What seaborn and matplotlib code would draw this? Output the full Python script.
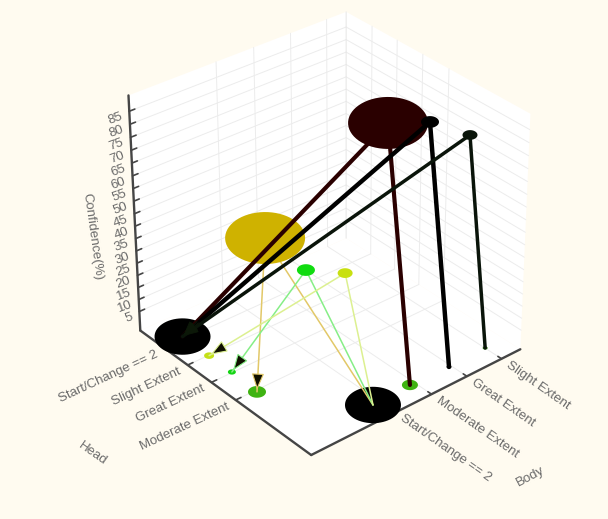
import numpy as np
import pandas as pd
import matplotlib
matplotlib.use('Agg')
import matplotlib.pyplot as plt
from matplotlib.path import Path
import seaborn as sns

# ---------- data ----------
z_ticks = list(range(5, 90, 5))
body_labels = ['Start/Change == 2', 'Moderate Extent', 'Great Extent', 'Slight Extent']
head_labels = ['Moderate Extent', 'Great Extent', 'Slight Extent', 'Start/Change == 2']

# item nodes on the floor
head_node_h = [-0.32, 0.77, 1.72, 2.85]
head_node_b = [-1.89, -1.85, -1.85, -1.85]
head_node_w = [18, 8, 10, 56]
head_node_c = ['#3fb312', '#14d414', '#c4e018', '#000000']
body_node_b = [-0.35, 0.70, 1.76, 2.82]
body_node_h = [-2.63, -2.58, -2.63, -2.60]
body_node_w = [56, 16, 5, 5]
body_node_c = ['#000000', '#3fb312', '#0a0a0a', '#2f7a10']

# association rules
rule_body = [1.0, 2.0, 3.0, 0.0, 0.0, 0.0]
rule_head = [-1.22, -1.40, -1.56, 2.17, 0.51, -1.04]
rule_conf = [92.2, 87.7, 77.7, 32.6, 30.5, 39.6]
rule_w = [80, 18, 15, 80, 18, 15]
rule_c = ['#2a0000', '#000000', '#0a140a', '#cfb200', '#10dc10', '#c8e010']
rule_line_c = ['#2a0000', '#000000', '#0a140a', '#e2c868', '#86ee86', '#dcf090']
rule_line_w = [3.0, 3.2, 2.5, 1.1, 1.1, 1.1]
rule_to_head = [3, 3, 3, 0, 1, 2]
rule_to_body = [1, 2, 3, 0, 0, 0]

# ---------- 3D box and perspective camera ----------
bl, hl, zl = (-2.25, 3.55), (-3.0, 4.05), (-3.0, 91.0)
_w = np.array([[0,0,0],[1,0,0],[0,1,0],[1,1,0],[0,1,1],[1,1,1],[1,0,1]], float)
_i = np.array([[312,455],[520,350],[140,330],[346,238],[128,96],[347,12],[530,113]], float)
_A = []
for (X,Y,Z),(u,v) in zip(_w,_i):
    _A.append([X,Y,Z,1,0,0,0,0,-u*X,-u*Y,-u*Z,-u])
    _A.append([0,0,0,0,X,Y,Z,1,-v*X,-v*Y,-v*Z,-v])
CAM = np.linalg.svd(np.array(_A))[2][-1].reshape(3,4)

def proj(b, h, c):
    v = np.array([(b-bl[0])/(bl[1]-bl[0]), (h-hl[0])/(hl[1]-hl[0]), (c-zl[0])/(zl[1]-zl[0]), 1.0])
    p = CAM @ v
    return p[0]/p[2], p[1]/p[2]

# ---------- figure ----------
BG = '#fffbf0'
TXT = '#6a6a6a'
sns.set_theme(style='white')
plt.rcParams['font.family'] = ['Liberation Sans', 'DejaVu Sans']
fig = plt.figure(figsize=(6.08, 5.19), dpi=100, facecolor=BG)
ax = fig.add_axes([0, 0, 1, 1])
ax.set_xlim(0, 608); ax.set_ylim(519, 0); ax.axis('off')

def poly(pts, **k):
    xy = np.array([proj(*p) for p in pts])
    ax.fill(xy[:,0], xy[:,1], **k)

B0,B1,H0,H1,Z0,Z1 = bl[0],bl[1],hl[0],hl[1],zl[0],zl[1]
poly([(B0,H0,Z0),(B1,H0,Z0),(B1,H1,Z0),(B0,H1,Z0)], color='white', lw=0, zorder=1)
poly([(B0,H1,Z0),(B1,H1,Z0),(B1,H1,Z1),(B0,H1,Z1)], color='white', lw=0, zorder=1)
poly([(B1,H0,Z0),(B1,H1,Z0),(B1,H1,Z1),(B1,H0,Z1)], color='white', lw=0, zorder=1)

def seg_df(segs):
    rows = []
    for i,(a,b) in enumerate(segs):
        for p in (a,b):
            x,y = proj(*p); rows.append((i,x,y))
    return pd.DataFrame(rows, columns=['u','x','y'])

def draw_segs(segs, color, lw, z):
    sns.lineplot(data=seg_df(segs), x='x', y='y', units='u', estimator=None, sort=False,
                 color=color, linewidth=lw, ax=ax, legend=False, zorder=z)

# wall and floor grid
grid = []
for c in z_ticks:
    grid.append(((B0,H1,c),(B1,H1,c)))
    grid.append(((B1,H0,c),(B1,H1,c)))
for b in range(4):
    grid.append(((b,H1,Z0),(b,H1,Z1)))
    grid.append(((b,H0,Z0),(b,H1,Z0)))
for h in range(4):
    grid.append(((B1,h,Z0),(B1,h,Z1)))
    grid.append(((B0,h,Z0),(B1,h,Z0)))
draw_segs(grid, '#ececec', 0.7, 2)
draw_segs([((B1,H1,Z0),(B1,H1,Z1))], '#e6e6e6', 0.7, 2)

# box axes
draw_segs([((B0,H1,Z0),(B0,H1,Z1)), ((B0,H1,Z0),(B0,H0,Z0)), ((B0,H0,Z0),(B1,H0,Z0))], '#454545', 1.7, 3)
ticks = [((B0,H1,c),(B0+0.14,H1,c)) for c in z_ticks]
ticks += [((b,H0,Z0),(b,H0+0.14,Z0)) for b in range(4)]
ticks += [((B0,h,Z0),(B0+0.14,h,Z0)) for h in range(4)]
draw_segs(ticks, '#454545', 1.2, 3)

# ellipse marker for scatter marks
t = np.linspace(0, 2*np.pi, 64)
ELL = Path(np.c_[np.cos(t), 0.65*np.sin(t)], closed=True)

def dots(xs, ys, ws, cs, z):
    df = pd.DataFrame({'x': xs, 'y': ys, 'k': [str(i) for i in range(len(xs))]})
    sns.scatterplot(data=df, x='x', y='y', hue='k', palette=dict(zip(df['k'], cs)),
                    s=[(w*0.72)**2 for w in ws], marker=ELL, linewidth=0, ax=ax, legend=False, zorder=z)

head_xy = [proj(b,h,0) for b,h in zip(head_node_b, head_node_h)]
body_xy = [proj(b,h,0) for b,h in zip(body_node_b, body_node_h)]
rule_xy = [proj(b,h,c) for b,h,c in zip(rule_body, rule_head, rule_conf)]

dots([p[0] for p in head_xy], [p[1] for p in head_xy], head_node_w, head_node_c, 4)
dots([p[0] for p in body_xy], [p[1] for p in body_xy], body_node_w, body_node_c, 4)
big = [i for i,w in enumerate(rule_w) if w > 40]
small = [i for i,w in enumerate(rule_w) if w <= 40]
dots([rule_xy[i][0] for i in big], [rule_xy[i][1] for i in big], [rule_w[i] for i in big], [rule_c[i] for i in big], 5.5)

# rule lines: thin ones under the big ellipses, thick ones over them
for i in [3,4,5,0,1,2]:
    z = 5 if i > 2 else 5.8
    for end in (head_xy[rule_to_head[i]], body_xy[rule_to_body[i]]):
        df = pd.DataFrame({'x': [rule_xy[i][0], end[0]], 'y': [rule_xy[i][1], end[1]]})
        sns.lineplot(data=df, x='x', y='y', estimator=None, sort=False, color=rule_line_c[i],
                     linewidth=rule_line_w[i], ax=ax, legend=False, zorder=z)
    e = np.array(head_xy[rule_to_head[i]]); s = np.array(rule_xy[i])
    d = (s-e)/np.linalg.norm(s-e)
    if i > 2:
        tip = e + d*2
        ax.annotate('', xy=tip, xytext=tip + d*15, zorder=6,
                    arrowprops=dict(arrowstyle='-|>,head_length=0.85,head_width=0.32',
                                    fc='#101000', ec=rule_line_c[i], lw=0.8, shrinkA=0, shrinkB=0))
    else:
        tip = e + d*1
        ax.annotate('', xy=tip, xytext=tip + d*20, zorder=6,
                    arrowprops=dict(arrowstyle='-|>,head_length=0.8,head_width=0.3',
                                    fc='#0c1808', ec='#0c1808', lw=0.6, shrinkA=0, shrinkB=0))
dots([rule_xy[i][0] for i in small], [rule_xy[i][1] for i in small], [rule_w[i] for i in small], [rule_c[i] for i in small], 7)

# text
tk = dict(color=TXT, fontsize=9.5, rotation_mode='anchor')
for c in z_ticks:
    x,y = proj(B0,H1,c)
    ax.text(x-7, y+5, str(c), ha='right', va='center', rotation=20, **tk)
for b,l in enumerate(body_labels):
    x,y = proj(b,H0,Z0)
    ax.text(x+6, y+5, l, ha='left', va='center', rotation=-35, **tk)
for h,l in enumerate(head_labels):
    x,y = proj(B0,h,Z0)
    ax.text(x-7, y+6, l, ha='right', va='center', rotation=25, **tk)
ax.text(92, 237, 'Confidence(%)', ha='center', va='center', rotation=-82, **tk)
ax.text(530, 477, 'Body', ha='center', va='center', rotation=28, **tk)
ax.text(93, 454, 'Head', ha='center', va='center', rotation=-35, **tk)

fig.savefig('out.png', dpi=100, facecolor=BG)
